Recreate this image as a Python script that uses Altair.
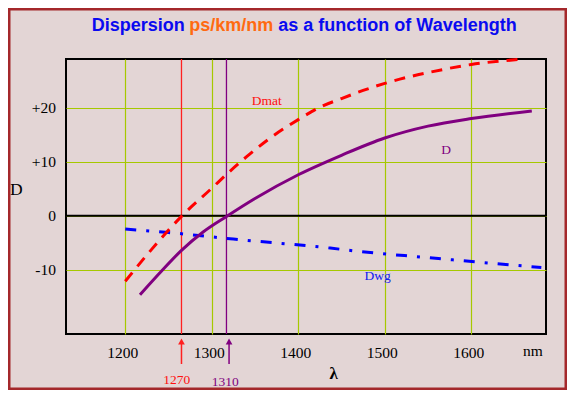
import altair as alt
import pandas as pd

# ---- data ----
wl_dmat = [1200, 1230, 1265, 1300, 1320, 1340, 1365, 1400, 1425, 1450, 1475, 1500, 1525, 1550, 1600, 1660]
dmat = [-12.1, -6.3, -0.1, 5.1, 8.1, 10.9, 14.1, 17.8, 20.1, 21.7, 23.2, 24.5, 25.6, 26.5, 28.0, 29.0]

wl_d = [1217, 1242, 1265, 1290, 1317, 1350, 1400, 1450, 1500, 1550, 1600, 1670]
d = [-14.6, -10.2, -6.4, -3.0, -0.13, 3.2, 7.6, 11.2, 14.4, 16.6, 18.0, 19.4]

wl_dwg = [1200, 1250, 1325, 1437, 1471, 1548, 1587, 1681]
dwg = [-2.46, -3.09, -4.31, -5.97, -6.6, -7.71, -8.27, -9.56]

x_ticks = [1200, 1300, 1400, 1500, 1600]
y_ticks = [-10, 0, 10, 20]
marker_wl = [1265, 1317]          # where the red / purple verticals sit
marker_labels = ["1270", "1310"]
arrow_wl = [1265, 1320]
marker_colors = ["#FF2020", "#800080"]

title_parts = ["Dispersion ", "ps/km/nm", "as a function of Wavelength"]
title_colors = ["#0A0AF0", "#FF6A10", "#0A0AF0"]

X_DOMAIN = [1131.5, 1686.4]
Y_DOMAIN = [-21.87, 29.02]
OLIVE = "#A6C800"
BG = "#E3D5D5"

one = pd.DataFrame({"a": [0]})

xs = alt.Scale(domain=X_DOMAIN, nice=False, zero=False)
ys = alt.Scale(domain=Y_DOMAIN, nice=False, zero=False)

xaxis = alt.Axis(values=x_ticks, title=None, ticks=False, domain=False, grid=True,
                 gridColor=OLIVE, gridWidth=1.2, labelFont="Liberation Serif", format="d",
                 labelFontSize=15.5, labelColor="black", labelPadding=23,
                 labelBaseline="alphabetic", labelOffset=-3, labelFlush=False, labelOverlap=False)
yaxis = alt.Axis(values=y_ticks, title=None, ticks=False, domain=False, grid=True,
                 gridColor=OLIVE, gridWidth=1.2, labelFont="Liberation Serif",
                 labelFontSize=15.5, labelColor="black", labelPadding=10.5,
                 labelExpr="datum.value > 0 ? '+' + datum.value : '' + datum.value",
                 labelFlush=False, labelOverlap=False)

df_dmat = pd.DataFrame({"wl": wl_dmat, "v": dmat})
df_d = pd.DataFrame({"wl": wl_d, "v": d})
df_dwg = pd.DataFrame({"wl": wl_dwg, "v": dwg})
df_mark = pd.DataFrame({"wl": marker_wl, "c": marker_colors, "lab": marker_labels, "aw": arrow_wl})

base_axes = alt.Chart(df_dmat).mark_line(opacity=0).encode(
    x=alt.X("wl:Q", scale=xs, axis=xaxis),
    y=alt.Y("v:Q", scale=ys, axis=yaxis),
)

zero_rule = alt.Chart(one).mark_rule(color="black", strokeWidth=2).encode(y=alt.datum(0))

vlines = alt.Chart(df_mark).mark_rule(strokeWidth=1.3).encode(
    x=alt.X("wl:Q", scale=xs), color=alt.Color("c:N", scale=None))

line_dmat = alt.Chart(df_dmat).mark_line(color="#FF0000", strokeWidth=3, strokeDash=[11, 8],
                                         interpolate="monotone").encode(
    x=alt.X("wl:Q", scale=xs), y=alt.Y("v:Q", scale=ys))
line_d = alt.Chart(df_d).mark_line(color="#800080", strokeWidth=3, interpolate="monotone").encode(
    x=alt.X("wl:Q", scale=xs), y=alt.Y("v:Q", scale=ys))
line_dwg = alt.Chart(df_dwg).mark_line(color="#0000FF", strokeWidth=3, strokeDash=[11, 10, 3, 10],
                                       interpolate="monotone").encode(
    x=alt.X("wl:Q", scale=xs), y=alt.Y("v:Q", scale=ys))

# arrows below the axis
arrow_shaft = alt.Chart(df_mark).mark_rule(strokeWidth=1.5).encode(
    x=alt.X("aw:Q", scale=xs), y=alt.value(282), y2=alt.value(305),
    color=alt.Color("c:N", scale=None))
arrow_head = alt.Chart(df_mark).mark_point(shape="triangle-up", filled=True, size=45, opacity=1).encode(
    x=alt.X("aw:Q", scale=xs), y=alt.value(282.5), color=alt.Color("c:N", scale=None))

def txt(s, x, y, color="black", size=13.5, font="Liberation Serif", weight="normal", align="center"):
    return alt.Chart(one).mark_text(text=s, color=color, fontSize=size, font=font,
                                    fontWeight=weight, align=align, baseline="alphabetic").encode(
        x=alt.value(x), y=alt.value(y))

labels = [
    txt("Dmat", 200.7, 46, color="#FF1010"),
    txt("D", 380, 95.3, color="#800080"),
    txt("Dwg", 311.7, 221, color="#1020F0"),
    txt(marker_labels[0], 110.7, 325, color="#FF1010"),
    txt(marker_labels[1], 159.3, 326.7, color="#800080"),
    txt("\u03bb", 267.7, 319.7, size=17, weight="bold"),
    txt("nm", 467, 297, size=15.5),
    txt("D", -49.7, 136, size=17.5),
    txt(title_parts[0], 25.7, -28, color=title_colors[0], size=18, font="Liberation Sans", weight="bold", align="left"),
    txt(title_parts[1], 123.3, -28, color=title_colors[1], size=18, font="Liberation Sans", weight="bold", align="left"),
    txt(title_parts[2], 212.3, -28, color=title_colors[2], size=18, font="Liberation Sans", weight="bold", align="left"),
]

border = alt.Chart(one).mark_rect(fillOpacity=0, stroke="#A4282B", strokeWidth=2.5).encode(
    x=alt.value(-56.75), x2=alt.value(499.75), y=alt.value(-49.75), y2=alt.value(329.75))

chart = alt.layer(
    base_axes, vlines, zero_rule, line_dwg, line_dmat, line_d,
    arrow_shaft, arrow_head, *labels, border
).properties(
    width=480, height=275,
    autosize=alt.AutoSizeParams(type="none"),
    padding={"left": 58, "top": 51, "right": 21, "bottom": 56},
    background=BG,
).configure_view(stroke="black", strokeWidth=2)

chart.save("out.html", embed_options={"renderer": "svg", "actions": False})
